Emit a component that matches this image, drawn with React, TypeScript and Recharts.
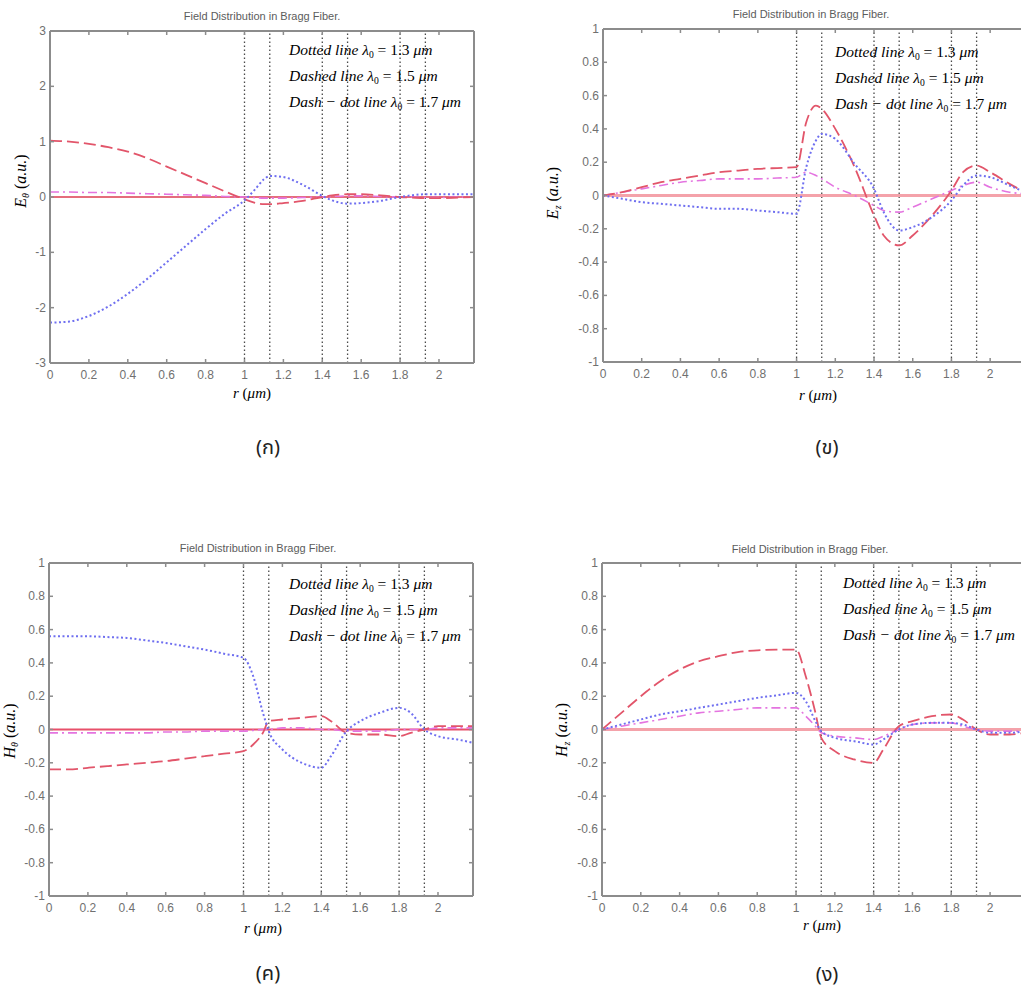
import React from 'react'
import { LineChart, Line, XAxis, YAxis, ReferenceLine } from 'recharts'

// radial positions (μm) shared by every field profile
const r = [0, 0.1, 0.2, 0.3, 0.4, 0.5, 0.6, 0.7, 0.8, 0.9, 1.0, 1.05, 1.1, 1.13, 1.2, 1.3, 1.4, 1.45, 1.53, 1.6, 1.7, 1.8, 1.86, 1.93, 2.0, 2.1, 2.18]

// layer interfaces of the Bragg cladding
const interfaces = [1.0, 1.13, 1.4, 1.53, 1.8, 1.93]

const xTicks = [0, 0.2, 0.4, 0.6, 0.8, 1, 1.2, 1.4, 1.6, 1.8, 2]
const yTicksWide = [-3, -2, -1, 0, 1, 2, 3]
const yTicksUnit = [-1, -0.8, -0.6, -0.4, -0.2, 0, 0.2, 0.4, 0.6, 0.8, 1]

// E_theta
const eThetaDotted = [-2.27, -2.25, -2.15, -1.98, -1.75, -1.48, -1.18, -0.88, -0.58, -0.3, -0.06, 0.12, 0.32, 0.38, 0.36, 0.22, 0.02, -0.06, -0.12, -0.11, -0.07, 0.0, 0.03, 0.05, 0.05, 0.05, 0.05]
const eThetaDashed = [1.02, 1.0, 0.96, 0.9, 0.82, 0.7, 0.55, 0.4, 0.25, 0.1, -0.04, -0.1, -0.13, -0.13, -0.11, -0.07, 0.0, 0.03, 0.05, 0.05, 0.03, 0.0, -0.01, -0.02, -0.02, -0.01, 0.0]
const eThetaDashDot = [0.09, 0.09, 0.08, 0.08, 0.07, 0.06, 0.05, 0.04, 0.03, 0.01, 0.0, -0.01, -0.02, -0.02, -0.02, -0.01, 0.0, 0.01, 0.02, 0.02, 0.01, 0.0, 0.0, -0.01, -0.01, 0.0, 0.0]

// E_z
const ezDotted = [0, -0.02, -0.04, -0.05, -0.06, -0.07, -0.08, -0.08, -0.09, -0.1, -0.11, 0.17, 0.33, 0.37, 0.34, 0.19, 0.04, -0.1, -0.21, -0.19, -0.13, -0.03, 0.06, 0.12, 0.11, 0.06, 0.02]
const ezDashed = [0, 0.02, 0.05, 0.08, 0.1, 0.12, 0.14, 0.15, 0.16, 0.165, 0.17, 0.44, 0.54, 0.52, 0.4, 0.17, -0.12, -0.24, -0.3, -0.24, -0.12, 0.03, 0.14, 0.18, 0.14, 0.07, 0.02]
const ezDashDot = [0, 0.02, 0.04, 0.06, 0.08, 0.09, 0.1, 0.1, 0.1, 0.105, 0.11, 0.14, 0.12, 0.1, 0.05, 0.0, -0.06, -0.09, -0.1, -0.07, -0.02, 0.03, 0.06, 0.08, 0.05, 0.02, 0.01]

// H_theta
const hThetaDotted = [0.56, 0.56, 0.56, 0.555, 0.55, 0.535, 0.52, 0.5, 0.48, 0.455, 0.43, 0.32, 0.1, -0.01, -0.12, -0.2, -0.23, -0.16, -0.01, 0.05, 0.1, 0.13, 0.1, 0.0, -0.04, -0.06, -0.08]
const hThetaDashed = [-0.24, -0.24, -0.23, -0.22, -0.21, -0.2, -0.19, -0.175, -0.16, -0.145, -0.13, -0.09, -0.02, 0.05, 0.06, 0.07, 0.08, 0.05, -0.02, -0.03, -0.03, -0.04, -0.02, 0.0, 0.02, 0.02, 0.02]
const hThetaDashDot = [-0.02, -0.02, -0.02, -0.02, -0.02, -0.02, -0.015, -0.015, -0.01, -0.01, -0.01, -0.005, 0.0, 0.0, 0.01, 0.01, 0.0, 0.0, -0.01, -0.01, -0.01, 0.0, 0.0, 0.0, 0.01, 0.01, 0.01]

// H_z
const hzDotted = [0, 0.03, 0.06, 0.09, 0.11, 0.13, 0.15, 0.17, 0.19, 0.205, 0.22, 0.17, 0.05, -0.01, -0.05, -0.07, -0.09, -0.06, 0.0, 0.03, 0.04, 0.04, 0.03, 0.0, -0.02, -0.02, -0.01]
const hzDashed = [0, 0.1, 0.2, 0.29, 0.36, 0.41, 0.44, 0.465, 0.475, 0.48, 0.48, 0.32, 0.1, -0.05, -0.13, -0.18, -0.2, -0.12, 0.02, 0.05, 0.08, 0.09, 0.06, 0.0, -0.03, -0.03, -0.02]
const hzDashDot = [0, 0.02, 0.04, 0.06, 0.08, 0.1, 0.11, 0.12, 0.13, 0.13, 0.13, 0.08, 0.02, -0.02, -0.04, -0.05, -0.06, -0.04, 0.0, 0.03, 0.04, 0.04, 0.02, 0.0, -0.01, -0.01, -0.01]

const AXIS = '#8c8c8c'
const TICK_TEXT = '#707070'
const BLUE = '#6f6ff0'
const RED = '#e2556a'
const MAGENTA = '#e474e0'

const fmt = (v: number) => String(+v.toFixed(1))
const sans = "'Liberation Sans', Arial, sans-serif"

// ticks point into the plot box, MATLAB style
const BottomTick = (p: any) => (
  <g>
    <line x1={p.x} x2={p.x} y1={p.y} y2={p.y - 4} stroke={AXIS} strokeWidth={1.5} />
    <text x={p.x} y={p.y + 16} textAnchor="middle" fill={TICK_TEXT} fontSize={12} fontFamily={sans}>
      {fmt(p.payload.value)}
    </text>
  </g>
)
const TopTick = (p: any) => <line x1={p.x} x2={p.x} y1={p.y} y2={p.y + 4} stroke={AXIS} strokeWidth={1.5} />
const LeftTick = (p: any) => (
  <g>
    <line x1={p.x} x2={p.x + 4} y1={p.y} y2={p.y} stroke={AXIS} strokeWidth={1.5} />
    <text x={p.x - 4} y={p.y + 4} textAnchor="end" fill={TICK_TEXT} fontSize={12} fontFamily={sans}>
      {fmt(p.payload.value)}
    </text>
  </g>
)
const RightTick = (p: any) => <line x1={p.x} x2={p.x - 4} y1={p.y} y2={p.y} stroke={AXIS} strokeWidth={1.5} />

interface PanelProps {
  left: number
  top: number
  width: number
  height: number
  margin: { top: number; right: number; bottom: number; left: number }
  yDomain: [number, number]
  yTicks: number[]
  dotted: number[]
  dashed: number[]
  dashDot: number[]
  zeroColor: string
  zeroWidth: number
}

function Panel({ left, top, width, height, margin, yDomain, yTicks, dotted, dashed, dashDot, zeroColor, zeroWidth }: PanelProps) {
  const data = r.map((x, i) => ({ r: x, dotted: dotted[i], dashed: dashed[i], dashDot: dashDot[i] }))
  return (
    <div style={{ position: 'absolute', left, top }}>
      <LineChart width={width} height={height} data={data} margin={margin}>
        <XAxis dataKey="r" type="number" domain={[0, 2.18]} ticks={xTicks} height={30} tickSize={0} tickMargin={0}
          tickLine={false} tick={BottomTick} axisLine={{ stroke: AXIS, strokeWidth: 2 }} allowDataOverflow interval={0} />
        <XAxis xAxisId="top" orientation="top" dataKey="r" type="number" domain={[0, 2.18]} ticks={xTicks} height={1}
          tickSize={0} tickMargin={0} tickLine={false} tick={TopTick} axisLine={{ stroke: AXIS, strokeWidth: 2 }} allowDataOverflow interval={0} />
        <YAxis type="number" domain={yDomain} ticks={yTicks} width={40} tickSize={0} tickMargin={0} tickLine={false}
          tick={LeftTick} axisLine={{ stroke: AXIS, strokeWidth: 2 }} allowDataOverflow interval={0} />
        <YAxis yAxisId="right" orientation="right" type="number" domain={yDomain} ticks={yTicks} width={1} tickSize={0}
          tickMargin={0} tickLine={false} tick={RightTick} axisLine={{ stroke: AXIS, strokeWidth: 2 }} allowDataOverflow interval={0} />

        {interfaces.map(x => (
          <ReferenceLine key={x} x={x} stroke="#4a4a4a" strokeWidth={1.3} strokeDasharray="1.5 2.5" />
        ))}
        <ReferenceLine y={0} stroke={zeroColor} strokeWidth={zeroWidth} />

        <Line type="monotone" dataKey="dashDot" stroke={MAGENTA} strokeWidth={1.6} strokeDasharray="9 4 2 4" dot={false} isAnimationActive={false} />
        <Line type="monotone" dataKey="dashed" stroke={RED} strokeWidth={1.8} strokeDasharray="12 5" dot={false} isAnimationActive={false} />
        <Line type="monotone" dataKey="dotted" stroke={BLUE} strokeWidth={2} strokeDasharray="2 2.5" dot={false} isAnimationActive={false} />
      </LineChart>
    </div>
  )
}

const abs = (x: number, y: number): React.CSSProperties => ({
  position: 'absolute', left: x, top: y, transform: 'translate(-50%, -50%)', whiteSpace: 'nowrap'
})
const serif = "'Liberation Serif', 'Times New Roman', serif"
const sub: React.CSSProperties = { fontSize: '62%', position: 'relative', top: '0.35em' }

function Title({ x, y }: { x: number; y: number }) {
  return (
    <div style={{ ...abs(x, y), fontFamily: sans, fontSize: 11, color: '#5c5c5c' }}>
      Field Distribution in Bragg Fiber.
    </div>
  )
}

function XLabel({ x, y }: { x: number; y: number }) {
  return (
    <div style={{ ...abs(x, y), fontFamily: serif, fontSize: 15 }}>
      <i>r</i> (<i>μm</i>)
    </div>
  )
}

function YLabel({ x, y, sym, idx }: { x: number; y: number; sym: string; idx: string }) {
  return (
    <div style={{ ...abs(x, y), transform: 'translate(-50%, -50%) rotate(-90deg)', fontFamily: serif, fontSize: 16 }}>
      <i>{sym}</i><i style={sub}>{idx}</i> (<i>a.u.</i>)
    </div>
  )
}

function Notes({ x, y }: { x: number; y: number }) {
  const lines = [
    ['Dotted line', '1.3'],
    ['Dashed line', '1.5'],
    ['Dash − dot line', '1.7'],
  ]
  return (
    <div style={{ position: 'absolute', left: x, top: y, fontFamily: serif, fontSize: 15.5, lineHeight: '24px', whiteSpace: 'nowrap' }}>
      {lines.map(([name, lam]) => (
        <div key={name}>
          <i>{name} λ</i><span style={sub}>0</span> = {lam} <i>μm</i>
        </div>
      ))}
    </div>
  )
}

function Caption({ x, y, text }: { x: number; y: number; text: string }) {
  return (
    <div style={{ ...abs(x, y), fontFamily: "'Noto Sans Thai', 'Noto Sans', 'DejaVu Sans', sans-serif", fontSize: 20, color: '#222' }}>
      {text}
    </div>
  )
}

export default function App() {
  return (
    <div style={{ position: 'absolute', left: 0, top: 0, width: 1021, height: 994, overflow: 'hidden', background: '#fff' }}>
      <Panel left={0} top={0} width={490} height={420} margin={{ top: 30, right: 15, bottom: 27, left: 10 }}
        yDomain={[-3, 3]} yTicks={yTicksWide} dotted={eThetaDotted} dashed={eThetaDashed} dashDot={eThetaDashDot}
        zeroColor="#dc3c50" zeroWidth={1.5} />
      <Panel left={500} top={0} width={540} height={420} margin={{ top: 28, right: 14, bottom: 28, left: 63 }}
        yDomain={[-1, 1]} yTicks={yTicksUnit} dotted={ezDotted} dashed={ezDashed} dashDot={ezDashDot}
        zeroColor="#f4a2aa" zeroWidth={3} />
      <Panel left={0} top={470} width={490} height={524} margin={{ top: 92, right: 16, bottom: 68, left: 9 }}
        yDomain={[-1, 1]} yTicks={yTicksUnit} dotted={hThetaDotted} dashed={hThetaDashed} dashDot={hThetaDashDot}
        zeroColor="#e8506a" zeroWidth={2} />
      <Panel left={500} top={470} width={540} height={524} margin={{ top: 92, right: 14, bottom: 68, left: 62 }}
        yDomain={[-1, 1]} yTicks={yTicksUnit} dotted={hzDotted} dashed={hzDashed} dashDot={hzDashDot}
        zeroColor="#f4a2aa" zeroWidth={3} />

      <Title x={262} y={16} />
      <Title x={811} y={14} />
      <Title x={258} y={548} />
      <Title x={810} y={549} />

      <YLabel x={21} y={181} sym="E" idx="θ" />
      <YLabel x={553} y={193} sym="E" idx="z" />
      <YLabel x={10} y={731} sym="H" idx="θ" />
      <YLabel x={562} y={730} sym="H" idx="z" />

      <XLabel x={252} y={393} />
      <XLabel x={818} y={395} />
      <XLabel x={263} y={928} />
      <XLabel x={822} y={925} />

      <Notes x={289} y={38} />
      <Notes x={835} y={40} />
      <Notes x={289} y={572} />
      <Notes x={843} y={571} />

      <Caption x={268} y={448} text="(ก)" />
      <Caption x={827} y={448} text="(ข)" />
      <Caption x={268} y={974} text="(ค)" />
      <Caption x={827} y={975} text="(ง)" />
    </div>
  )
}
